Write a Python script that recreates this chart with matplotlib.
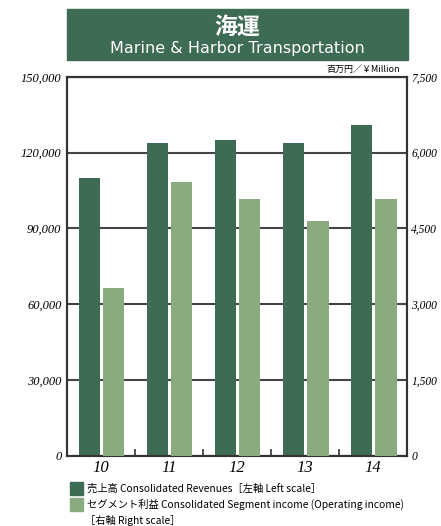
import matplotlib.pyplot as plt
from matplotlib.patches import Rectangle
import numpy as np

# data
years = ['10', '11', '12', '13', '14']
revenues = [110000, 124000, 125000, 124000, 131000]      # left scale, ¥ million
segment_income = [3320, 5420, 5080, 4650, 5080]          # right scale, ¥ million
left_ticks = [0, 30000, 60000, 90000, 120000, 150000]
right_ticks = [0, 1500, 3000, 4500, 6000, 7500]

dark = '#3d6b53'
light = '#8aaa80'
line_col = '#444444'
jp = ['Noto Sans CJK JP', 'DejaVu Sans']
num_font = dict(family='Liberation Serif', style='italic')

fig = plt.figure(figsize=(4.41, 5.26), dpi=100)
ax = fig.add_axes([0.152, 0.134, 0.771, 0.7196])
ax2 = ax.twinx()

x = np.arange(len(years))
w = 0.31
ax.bar(x - 0.17, revenues, w, color=dark, zorder=3)
ax2.bar(x + 0.19, segment_income, w, color=light, zorder=3)

ax.set_xlim(-0.5, len(years) - 0.5)
ax.set_ylim(0, 150000)
ax2.set_ylim(0, 7500)
ax.set_yticks(left_ticks)
ax.set_yticklabels([f'{v:,}' for v in left_ticks], fontsize=9, **num_font)
ax2.set_yticks(right_ticks)
ax2.set_yticklabels([f'{v:,}' for v in right_ticks], fontsize=8.3, **num_font)
ax.set_xticks(x)
ax.set_xticklabels(years, fontsize=12, **num_font)
ax.set_xticks(np.arange(len(years) - 1) + 0.5, minor=True)

ax.grid(axis='y', color=line_col, linewidth=1.5, zorder=0)
ax.set_axisbelow(True)
ax.tick_params(axis='y', length=0, pad=4)
ax2.tick_params(axis='y', length=0, pad=3)
ax.tick_params(axis='x', which='major', length=0, pad=3)
ax.tick_params(axis='x', which='minor', direction='in', length=5, width=1.3, color=line_col)
for a in (ax, ax2):
    for s in a.spines.values():
        s.set_color('#333333')
        s.set_linewidth(1.5)

# title block
fig.patches.append(Rectangle((0.152, 0.886), 0.773, 0.097, transform=fig.transFigure,
                             color='#3d6b53', zorder=0))
fig.text(0.538, 0.9487, '海運', ha='center', va='center', color='white',
         fontsize=16.5, fontweight='bold', family=jp)
fig.text(0.538, 0.9087, 'Marine & Harbor Transportation', ha='center', va='center',
         color='white', fontsize=11.5, family='DejaVu Sans')
fig.text(400 / 441, 0.859, '百万円／￥Million', ha='right', va='bottom', fontsize=6.5, family=jp)

# legend
for i, (col, label) in enumerate([
        (dark, '売上高 Consolidated Revenues［左軸 Left scale］'),
        (light, 'セグメント利益 Consolidated Segment income (Operating income)')]):
    yb = 1 - (495 + i * 16) / 526
    fig.patches.append(Rectangle((70 / 441, yb), 13 / 441, 13 / 526,
                                 transform=fig.transFigure, color=col))
    fig.text(87 / 441, yb + 6.5 / 526, label, ha='left', va='center', fontsize=7.4, family=jp)
fig.text(85 / 441, 1 - 520 / 526, '［右軸 Right scale］', ha='left', va='center',
         fontsize=7.4, family=jp)

fig.savefig('out.png', dpi=100)
